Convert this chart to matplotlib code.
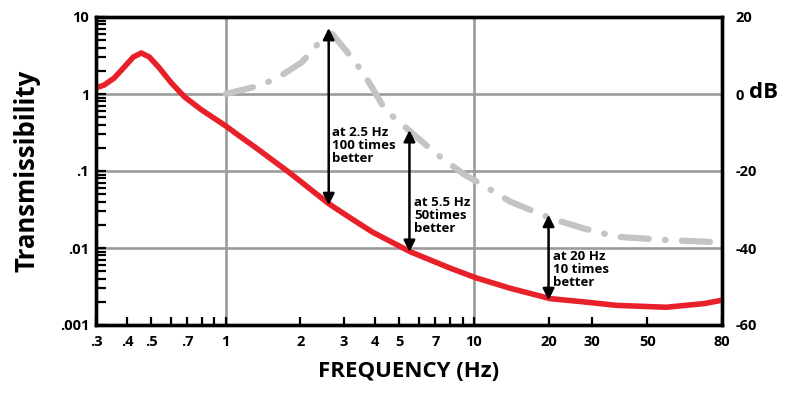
import numpy as np
import matplotlib.pyplot as plt
from matplotlib.ticker import FixedLocator, NullFormatter

# isolator transmissibility (red) vs frequency
freq_red = [0.3, 0.324, 0.355, 0.39, 0.424, 0.457, 0.492, 0.536, 0.604, 0.683, 0.8,
            1.0, 1.13, 1.31, 1.8, 2.61, 3.14, 3.9, 5.56, 8.0, 10.2, 14.0, 20.3, 27.6, 37.5,
            59.6, 85, 100]
trans_red = [1.2, 1.31, 1.61, 2.24, 3.02, 3.41, 3.02, 2.24, 1.39, 0.914, 0.62,
             0.385, 0.288, 0.205, 0.096, 0.0373, 0.0252, 0.0161, 0.0089, 0.0055, 0.0041, 0.0030,
             0.0022, 0.0020, 0.0018, 0.0017, 0.0019, 0.0021]

# comparison curve (gray dash-dot)
freq_gray = [1.0, 1.4, 1.69, 2.03, 2.45, 2.69, 3.33, 3.79, 4.4, 5.3, 7.0, 9.1, 11.2,
             14.0, 20.3, 27.6, 37.5, 59.6, 90.0]
trans_gray = [1.0, 1.31, 1.77, 2.6, 5.2, 6.0, 2.6, 1.39, 0.62, 0.37, 0.17, 0.091, 0.062,
              0.040, 0.0245, 0.018, 0.014, 0.0127, 0.012]

# double arrows: frequency, top, bottom, label
arrow_freq = [2.6, 5.5, 20]
arrow_top = [7.2, 0.34, 0.027]
arrow_bottom = [0.036, 0.0089, 0.0021]
arrow_text = ["at 2.5 Hz\n100 times\nbetter", "at 5.5 Hz\n50times\nbetter", "at 20 Hz\n10 times\nbetter"]
text_pos = [(2.69, 0.38), (5.75, 0.048), (20.8, 0.0095)]

xticks = [0.3, 0.4, 0.5, 0.7, 1, 2, 3, 4, 5, 7, 10, 20, 30, 50, 100]
xticklabels = [".3", ".4", ".5", ".7", "1", "2", "3", "4", "5", "7", "10", "20", "30", "50", "80"]
xminor = [0.6, 0.8, 0.9, 6, 8, 9]
yticks = [0.001, 0.01, 0.1, 1, 10]
yticklabels = [".001", ".01", ".1", "1", "10"]
db_ticks = [-60, -40, -20, 0, 20]

plt.rcParams['font.family'] = ['Open Sans', 'DejaVu Sans']
plt.rcParams['font.weight'] = 'bold'

fig = plt.figure(figsize=(8.09, 3.98), dpi=100)
ax = fig.add_axes([96 / 809, 1 - 325 / 398, (722 - 96) / 809, (325 - 17) / 398])
ax.set_xscale('log')
ax.set_yscale('log')
ax.set_xlim(0.3, 100)
ax.set_ylim(0.001, 10)

# grid
for gx in [1, 10]:
    ax.axvline(gx, color='#9b9b9b', lw=1.9, zorder=1)
for gy in [0.01, 0.1, 1]:
    ax.axhline(gy, color='#9b9b9b', lw=1.9, zorder=1)

ax.plot(freq_gray, trans_gray, color='#c4c4c4', lw=4.5, dashes=(4.5, 2.6, 0.1, 2.6),
        dash_capstyle='round', solid_joinstyle='round', zorder=2)
ax.plot(freq_red, trans_red, color='#e8202a', lw=4.0, solid_capstyle='round',
        solid_joinstyle='round', zorder=3)

for f, t, b in zip(arrow_freq, arrow_top, arrow_bottom):
    ax.annotate('', xy=(f, t), xytext=(f, b),
                arrowprops=dict(arrowstyle='<|-|>', color='black', lw=1.8,
                                mutation_scale=17, shrinkA=0, shrinkB=0), zorder=4)
for (tx, ty), s in zip(text_pos, arrow_text):
    ax.text(tx, ty, s, fontsize=9.5, fontweight='bold', va='top', ha='left',
            linespacing=1.0, zorder=5)

ax.xaxis.set_major_locator(FixedLocator(xticks))
ax.set_xticklabels(xticklabels)
ax.xaxis.set_minor_locator(FixedLocator(xminor))
ax.xaxis.set_minor_formatter(NullFormatter())
ax.yaxis.set_major_locator(FixedLocator(yticks))
ax.set_yticklabels(yticklabels)
ax.yaxis.set_minor_locator(FixedLocator(
    [m * 10.0 ** e for e in range(-3, 1) for m in range(2, 10)]))
ax.yaxis.set_minor_formatter(NullFormatter())
ax.tick_params(axis='both', which='both', direction='in', width=1.6, labelsize=10.5)
ax.tick_params(axis='x', which='both', length=6, pad=7)
ax.tick_params(axis='y', which='both', length=7, pad=5)
for sp in ax.spines.values():
    sp.set_linewidth(2.4)

ax2 = ax.twinx()
ax2.set_ylim(-60, 20)
ax2.set_yticks(db_ticks)
ax2.set_yticklabels([str(v) for v in db_ticks])
ax2.tick_params(axis='y', length=0, pad=10, labelsize=10.5)
for sp in ax2.spines.values():
    sp.set_linewidth(2.4)

ax.set_xlabel("FREQUENCY (Hz)", fontsize=16, fontweight='bold', labelpad=9)
ax.set_ylabel("Transmissibility", fontsize=18.5, fontweight='bold', labelpad=14)
fig.text(764 / 809, 1 - 93 / 398, "dB", fontsize=16, fontweight='bold', ha='center', va='center')

fig.savefig('out.png', dpi=100)
